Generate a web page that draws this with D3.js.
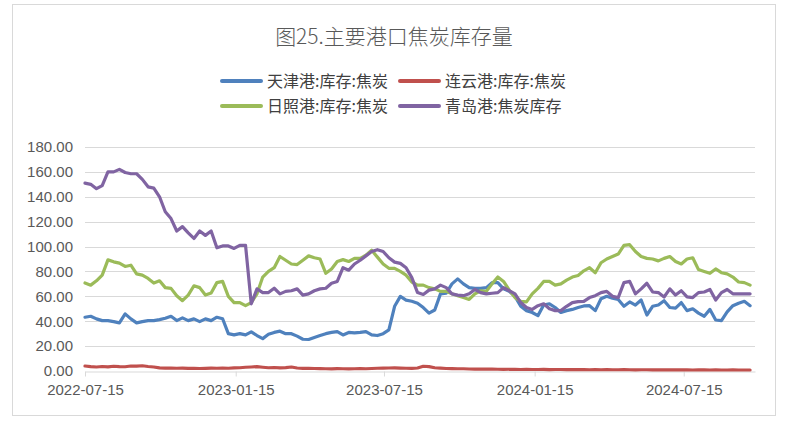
<!DOCTYPE html>
<html><head><meta charset="utf-8">
<script src="https://cdn.jsdelivr.net/npm/d3@7/dist/d3.min.js"></script>
<style>body{margin:0;background:#fff}svg{display:block}</style>
</head><body><svg id="c" width="788" height="425"></svg>
<script>
const title = "图25.主要港口焦炭库存量";
const seriesNames = ["天津港:库存:焦炭","连云港:库存:焦炭","日照港:库存:焦炭","青岛港:焦炭库存"];
const seriesColors = ["#4F81BD","#C0504D","#9BBB59","#8064A2"];
const dates = [
"2022-07-15","2022-07-22","2022-07-29","2022-08-05","2022-08-12","2022-08-19","2022-08-26","2022-09-02","2022-09-09","2022-09-16","2022-09-23","2022-09-30","2022-10-07","2022-10-14","2022-10-21","2022-10-28","2022-11-04","2022-11-11","2022-11-18","2022-11-25","2022-12-02","2022-12-09","2022-12-16","2022-12-23","2022-12-30",
"2023-01-06","2023-01-13","2023-01-20","2023-01-27","2023-02-03","2023-02-10","2023-02-17","2023-02-24","2023-03-03","2023-03-10","2023-03-17","2023-03-24","2023-03-31","2023-04-07","2023-04-14","2023-04-21","2023-04-28","2023-05-05","2023-05-12","2023-05-19","2023-05-26","2023-06-02","2023-06-09","2023-06-16","2023-06-23","2023-06-30","2023-07-07","2023-07-14","2023-07-21","2023-07-28","2023-08-04","2023-08-11","2023-08-18","2023-08-25","2023-09-01","2023-09-08","2023-09-15","2023-09-22","2023-09-29","2023-10-06","2023-10-13","2023-10-20","2023-10-27","2023-11-03","2023-11-10","2023-11-17","2023-11-24","2023-12-01","2023-12-08","2023-12-15","2023-12-22","2023-12-29",
"2024-01-05","2024-01-12","2024-01-19","2024-01-26","2024-02-02","2024-02-09","2024-02-16","2024-02-23","2024-03-01","2024-03-08","2024-03-15","2024-03-22","2024-03-29","2024-04-05","2024-04-12","2024-04-19","2024-04-26","2024-05-03","2024-05-10","2024-05-17","2024-05-24","2024-05-31","2024-06-07","2024-06-14","2024-06-21","2024-06-28","2024-07-05","2024-07-12","2024-07-19","2024-07-26","2024-08-02","2024-08-09","2024-08-16","2024-08-23","2024-08-30","2024-09-06","2024-09-13","2024-09-20","2024-09-27","2024-10-04"];
const tianjin = [43.2,44,41.9,40.5,40.5,39.7,38.7,45.9,41.9,38.7,39.7,40.5,40.5,41.3,42.4,44,40.5,42.7,40.5,41.9,39.7,41.9,40.5,43.2,42,
30,29,30,29,31.5,28.5,26,29.5,31,32,30,30,28,25.5,25.3,27,28.5,30,31,31.7,29,31,30.7,31,31.7,29,28.5,30,33,52,60,57,56,54.5,51,46.5,49,62,62.5,70,74,70,67,66.4,66.4,67,71,71,66,64,60,52,
48.5,47,44.5,53,54,51,47,48.5,49.5,51,52.3,52.5,48.5,58,60,58.5,57.5,52,55.5,53,57,45,52,53,56.5,51,50.5,55,48.5,50,46.5,44,49.5,41,40.5,47.5,52.5,54.5,56,52.5];
const lianyungang = [4,3.5,3.2,3.6,3.3,3.8,3.5,3.4,4,3.9,4.2,3.6,3.2,2.5,2.3,2.4,2.2,2.3,2.1,2.2,2,2.1,2.3,2.2,2.4,
2.2,2.5,2.6,3,3.2,3.5,3,2.6,2.8,2.5,2.7,3.2,2.4,2.1,2.2,2,1.9,1.8,1.7,1.9,1.8,1.7,1.8,1.9,1.8,2,2.2,2.3,2.4,2.5,2.3,2.2,2.1,2.4,3.8,3.5,2.6,2.3,2,1.9,1.8,1.8,1.6,1.5,1.5,1.6,1.5,1.4,1.3,1.4,1.3,1.2,
1.3,1.2,1.2,1.3,1.1,1.2,1.2,1.1,1.2,1.1,1.1,1,1.1,1,1.1,1,1,1.1,1,0.9,1,1,0.9,1,0.9,0.9,1,0.9,0.9,0.8,0.9,0.9,0.8,0.9,0.8,0.8,0.9,0.8,0.8,0.8];
const rizhao = [70.7,69,72.5,77,89.3,87.7,86.7,84,85,78,77,74.4,70.7,72.5,67,66.4,60.5,56.5,61,68.5,67,61,62.7,71,72,
60,55,55,52.5,55,62,75.5,80,83,92,89,86,85.5,89,92.5,91,90,78.5,82,88,89.5,88,90.5,90.5,93,97,91.5,86,82.5,82.5,80,77,71.5,69,69,67,66,64,64,62,60.5,59,57.5,62,64.5,64,70,75.5,72,65,59,56,
55.5,62,66.4,72,72,69,70,73,75.5,76.8,80.5,83,79,87,90,92,94,101,101.5,96,92,90.5,90,88.5,90.5,92,88,86,90,91,81.5,80,78.5,82,79,78,75.5,71.5,71,69];
const qingdao = [151,150,146.5,149,160,160,162,159.5,158.5,158.5,154,148,147,140,128,122.5,112.5,116,111,106.5,112.5,109,112.5,99,100.5,
100.5,98.5,101,101,54,66,63,63,66.5,62,64,64.5,66,61,62,64.5,66,66.5,70.5,72,83,81,86,89,92.5,96,97.5,96,91,87.5,86.5,83,75,63,61.5,65,66,69,67,62,61,60.5,62,65.5,63,62,62.5,63,67,64.5,62,55,
51,49.5,52.5,54,50,48.5,48.5,52,55,55.7,56,59,60.5,63,64,60,59,71,72,62,66,70.5,63.5,63,59.5,66,61,64.5,59.5,59,63,63.5,65.5,57,63,65.5,62,62,62,62];
const yTicks = [0,20,40,60,80,100,120,140,160,180];
const xTickLabels = ["2022-07-15","2023-01-15","2023-07-15","2024-01-15","2024-07-15"];
const xDomainEnd = "2024-10-10";

const parse = d3.timeParse("%Y-%m-%d");
const fmt = d3.timeFormat("%Y-%m-%d");
const svg = d3.select("#c");
const pLeft = 85, pRight = 755, pTop = 147, pBottom = 371;

svg.append("rect").attr("x",12.5).attr("y",4.5).attr("width",763).attr("height",411)
  .attr("fill","none").attr("stroke","#d9d9d9");

const x = d3.scaleTime().domain([parse(dates[0]), parse(xDomainEnd)]).range([pLeft, pRight]);
const y = d3.scaleLinear().domain([0,180]).range([pBottom, pTop]);

svg.append("g").selectAll("line").data(yTicks.filter(d=>d>0)).join("line")
  .attr("x1",pLeft).attr("x2",pRight).attr("y1",d=>Math.round(y(d))+0.5).attr("y2",d=>Math.round(y(d))+0.5)
  .attr("stroke","#d9d9d9").attr("stroke-width",1);

const yAxis = d3.axisLeft(y).tickValues(yTicks).tickFormat(d3.format(".2f")).tickSize(0).tickPadding(12);
const gy = svg.append("g").attr("transform",`translate(${pLeft},0)`).call(yAxis);
gy.select(".domain").remove();
gy.selectAll("text").attr("font-family","'Liberation Sans', Arial, sans-serif").attr("font-size",15).attr("fill","#595959");

const xAxis = d3.axisBottom(x).tickValues(xTickLabels.map(parse)).tickFormat(fmt).tickSize(5).tickPadding(8).tickSizeOuter(0);
const gx = svg.append("g").attr("transform",`translate(0,${Math.round(pBottom)+0.5})`).call(xAxis);
gx.select(".domain").attr("stroke","#d9d9d9");
gx.selectAll(".tick line").attr("stroke","#d9d9d9");
gx.selectAll("text").attr("font-family","'Liberation Sans', Arial, sans-serif").attr("font-size",15).attr("fill","#595959");

const allSeries = [tianjin, lianyungang, rizhao, qingdao];
const line = d3.line().x((d,i)=>x(parse(dates[i]))).y(d=>y(d));
const drawOrder = [1,0,2,3];
drawOrder.forEach(k=>{
  svg.append("path").datum(allSeries[k]).attr("d",line)
    .attr("fill","none").attr("stroke",seriesColors[k]).attr("stroke-width",3.2)
    .attr("stroke-linejoin","round").attr("stroke-linecap","round");
});

svg.append("text").attr("x",394).attr("y",44).attr("text-anchor","middle")
  .attr("font-family","'Noto Sans CJK SC', sans-serif").attr("font-weight",300).attr("font-size",21).attr("fill","#595959")
  .text(title);

const legPos = [[222,81],[400,81],[222,106],[400,106]];
seriesNames.forEach((n,k)=>{
  const [lx,ly] = legPos[k];
  svg.append("line").attr("x1",lx).attr("x2",lx+39).attr("y1",ly).attr("y2",ly)
    .attr("stroke",seriesColors[k]).attr("stroke-width",4).attr("stroke-linecap","round");
  svg.append("text").attr("x",lx+45).attr("y",ly+6).attr("font-family","'Noto Sans CJK SC', sans-serif")
    .attr("font-size",16).attr("fill","#404040").text(n);
});
</script></body></html>
